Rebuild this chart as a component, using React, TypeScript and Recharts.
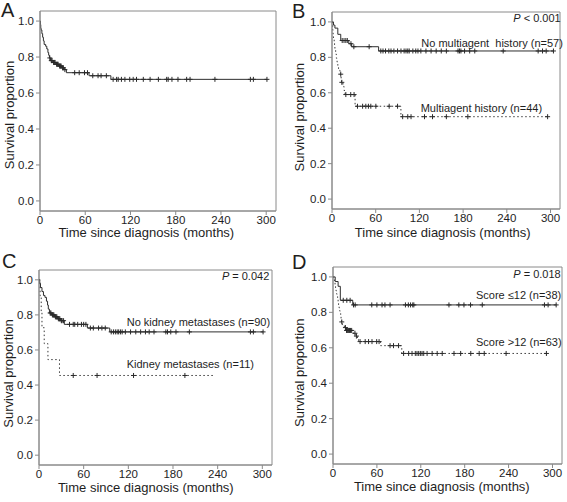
import React from 'react';
import { ComposedChart, Line, Scatter, XAxis, YAxis, ReferenceArea } from 'recharts';

// ---------- axis definitions ----------
const X_TICKS = [0, 60, 120, 180, 240, 300];
const Y_TICKS = [0, 0.2, 0.4, 0.6, 0.8, 1.0];
const X_MAX = 313;
const Y_MIN = -0.056;
const Y_MAX = 1.056;

// ---------- Panel A: all patients ----------
const aTimes = [0, 0.5, 1, 1.5, 2.5, 3.5, 4.5, 5.5, 7.5, 9, 10.5, 11.5, 12.5, 14, 17, 21, 25, 29, 32, 35, 65, 94];
const aSurv = [1.0, 0.98, 0.96, 0.95, 0.93, 0.91, 0.89, 0.87, 0.86, 0.845, 0.825, 0.81, 0.795, 0.78, 0.77, 0.76, 0.75, 0.74, 0.73, 0.713, 0.696, 0.676];
const aEnd = 301;
const aCensor = [13, 15, 16, 18, 19, 20, 22, 23, 24, 26, 27, 28, 30, 31, 33, 46, 52, 59, 63, 70, 77, 81, 88, 97, 101.6, 103.7, 108, 112.6, 119, 123.6, 128, 137, 146, 157, 168, 170, 175, 183, 194.5, 199, 232, 279, 283, 301];

// ---------- Panel B: multiagent history ----------
const bNoTimes = [0, 2, 4, 8, 12, 23, 27, 64];
const bNoSurv = [1.0, 0.982, 0.965, 0.93, 0.895, 0.877, 0.86, 0.836];
const bNoEnd = 304;
const bNoCensor = [14, 16.5, 19, 21, 26, 30, 51, 67, 70, 73.5, 78, 81, 85, 90, 94.7, 99, 101.6, 104, 106, 111, 115, 118, 122, 129, 136, 143, 150, 157, 173, 175, 177, 182, 189, 196, 235, 283, 289, 294, 304];
const bMaTimes = [0, 0.5, 1, 1.5, 2, 3, 3.5, 4, 5, 6, 7, 8, 9, 11, 12.5, 13, 15, 16.5, 18, 31.7, 94.6];
const bMaSurv = [1.0, 0.977, 0.955, 0.932, 0.909, 0.886, 0.864, 0.841, 0.818, 0.795, 0.773, 0.75, 0.727, 0.705, 0.682, 0.659, 0.636, 0.613, 0.59, 0.524, 0.465];
const bMaEnd = 296;
const bMaCensor = [12, 13.5, 19, 25.7, 30.3, 35, 42, 46.4, 50, 53.3, 60.2, 78.5, 90, 97, 104, 108.5, 127, 138, 157, 186.5, 296];

// ---------- Panel C: kidney metastases ----------
const cNoTimes = [0, 1, 2, 4, 6, 8, 10, 11.5, 12.5, 14, 17, 21, 25, 29, 34, 65, 95];
const cNoSurv = [1.0, 0.978, 0.956, 0.933, 0.911, 0.9, 0.878, 0.856, 0.833, 0.811, 0.8, 0.789, 0.778, 0.767, 0.746, 0.725, 0.703];
const cNoEnd = 301;
const cNoCensor = [15, 16, 18, 19, 20, 22, 23, 24, 26, 27, 28, 30, 31, 33, 41, 46, 48, 52, 57, 60, 63, 69, 73, 80, 84.5, 89, 97, 100, 102.6, 105, 107, 109.4, 111.7, 116, 123, 130, 136.5, 143, 148, 154.5, 170.4, 172.6, 177, 184, 202, 284, 288, 301];
const cKdTimes = [0, 1.5, 3, 4, 7, 12, 27.5];
const cKdSurv = [1.0, 0.909, 0.818, 0.727, 0.636, 0.545, 0.4545];
const cKdEnd = 234;
const cKdCensor = [46, 78, 127, 196];

// ---------- Panel D: score ----------
const dLoTimes = [0, 3, 7, 10, 27];
const dLoSurv = [1.0, 0.974, 0.947, 0.868, 0.842];
const dLoEnd = 305;
const dLoCensor = [14, 18.9, 23.4, 28, 30.3, 53, 60, 67, 71, 78, 99, 103, 106, 109, 110.5, 158.5, 172, 179, 188, 204, 289, 294, 305];
const dHiTimes = [0, 1, 2, 2.8, 3.5, 4.2, 4.8, 5.5, 6.3, 7, 7.6, 8.4, 9, 9.6, 10.5, 11, 11.7, 13, 15.5, 17.5, 27.5, 31.5, 33.5, 35, 65, 94];
const dHiSurv = [1.0, 0.984, 0.968, 0.952, 0.937, 0.921, 0.905, 0.889, 0.873, 0.857, 0.841, 0.825, 0.81, 0.794, 0.778, 0.762, 0.746, 0.73, 0.714, 0.698, 0.682, 0.666, 0.65, 0.635, 0.612, 0.568];
const dHiEnd = 292;
const dHiCensor = [12, 17, 18.5, 19.5, 20.5, 21.5, 22.5, 24, 25.5, 30, 32, 37, 44, 48.6, 53.3, 59.7, 63, 78, 82.7, 89.6, 96.5, 103.4, 108, 112.5, 114.8, 117.1, 119.4, 121.7, 124, 128.6, 135.5, 142.4, 149.3, 165.4, 174.5, 188.3, 199.8, 206.7, 236.6, 291.7];

// ---------- helpers ----------
type Pt = { t: number; s: number };
function stepData(times: number[], surv: number[], end: number): Pt[] {
  const pts = times.map((t, i) => ({ t, s: surv[i] }));
  pts.push({ t: end, s: surv[surv.length - 1] });
  return pts;
}
function survAt(times: number[], surv: number[], t: number): number {
  let s = surv[0];
  for (let i = 0; i < times.length; i++) if (times[i] <= t) s = surv[i];
  return s;
}
function censorData(times: number[], surv: number[], cens: number[]): Pt[] {
  return cens.map((t) => ({ t, s: survAt(times, surv, t) }));
}

const FONT = '"Liberation Sans", Arial, Helvetica, sans-serif';
const AXIS_COLOR = '#8a8a8a';
const INK = '#1e1e1e';

const Cross = (props: any) => {
  const { cx, cy } = props;
  if (cx == null || cy == null) return null;
  return (
    <path
      d={`M${cx - 2.5},${cy}h5M${cx},${cy - 2.5}v5`}
      stroke="#2a2a2a"
      strokeWidth={1}
      fill="none"
    />
  );
};

type Curve = { times: number[]; surv: number[]; end: number; censor: number[]; dashed?: boolean };

function Panel(props: {
  left: number;
  top: number;
  width: number;
  height: number;
  mTop: number;
  mRight: number;
  yw: number;
  xh: number;
  curves: Curve[];
}) {
  const { left, top, width, height, mTop, mRight, yw, xh, curves } = props;
  return (
    <div style={{ position: 'absolute', left, top, width, height }}>
      <ComposedChart
        width={width}
        height={height}
        margin={{ top: mTop, right: mRight, left: 0, bottom: 0 }}
      >
        <XAxis
          type="number"
          dataKey="t"
          domain={[0, X_MAX]}
          allowDataOverflow
          ticks={X_TICKS}
          interval={0}
          height={xh}
          tickSize={4}
          tickMargin={1}
          stroke={AXIS_COLOR}
          tick={{ fill: INK, fontSize: 11.5, fontFamily: FONT }}
        />
        <YAxis
          type="number"
          dataKey="s"
          domain={[Y_MIN, Y_MAX]}
          allowDataOverflow
          ticks={Y_TICKS}
          interval={0}
          width={yw}
          tickSize={4}
          tickMargin={2}
          stroke={AXIS_COLOR}
          tickFormatter={(v: number) => v.toFixed(1)}
          tick={{ fill: INK, fontSize: 11.5, fontFamily: FONT }}
        />
        <ReferenceArea
          x1={0}
          x2={X_MAX}
          y1={Y_MIN}
          y2={Y_MAX}
          fill="none"
          fillOpacity={0}
          stroke={AXIS_COLOR}
          strokeWidth={1}
        />
        {curves.map((c, i) => (
          <Line
            key={'l' + i}
            data={stepData(c.times, c.surv, c.end)}
            dataKey="s"
            type="stepAfter"
            stroke={c.dashed ? '#3a3a3a' : '#2e2e2e'}
            strokeWidth={1}
            strokeDasharray={c.dashed ? '1.5 2.5' : undefined}
            dot={false}
            activeDot={false}
            isAnimationActive={false}
          />
        ))}
        {curves.map((c, i) => (
          <Scatter
            key={'s' + i}
            data={censorData(c.times, c.surv, c.censor)}
            dataKey="s"
            shape={Cross}
            isAnimationActive={false}
          />
        ))}
      </ComposedChart>
    </div>
  );
}

const txt = { fontFamily: FONT, fill: INK } as const;

export default function App() {
  return (
    <div style={{ position: 'absolute', left: 0, top: 0, width: 567, height: 502, background: '#fff' }}>
      <Panel
        left={0}
        top={0}
        width={283}
        height={251}
        mTop={11}
        mRight={7}
        yw={40}
        xh={40}
        curves={[{ times: aTimes, surv: aSurv, end: aEnd, censor: aCensor }]}
      />
      <Panel
        left={283}
        top={0}
        width={284}
        height={251}
        mTop={12}
        mRight={7}
        yw={49}
        xh={42}
        curves={[
          { times: bNoTimes, surv: bNoSurv, end: bNoEnd, censor: bNoCensor },
          { times: bMaTimes, surv: bMaSurv, end: bMaEnd, censor: bMaCensor, dashed: true },
        ]}
      />
      <Panel
        left={0}
        top={251}
        width={283}
        height={251}
        mTop={19}
        mRight={11}
        yw={39}
        xh={37}
        curves={[
          { times: cNoTimes, surv: cNoSurv, end: cNoEnd, censor: cNoCensor },
          { times: cKdTimes, surv: cKdSurv, end: cKdEnd, censor: cKdCensor, dashed: true },
        ]}
      />
      <Panel
        left={283}
        top={251}
        width={284}
        height={251}
        mTop={16}
        mRight={5}
        yw={50}
        xh={38}
        curves={[
          { times: dLoTimes, surv: dLoSurv, end: dLoEnd, censor: dLoCensor },
          { times: dHiTimes, surv: dHiSurv, end: dHiEnd, censor: dHiCensor, dashed: true },
        ]}
      />
      <svg
        width={567}
        height={502}
        style={{ position: 'absolute', left: 0, top: 0, pointerEvents: 'none' }}
      >
        {/* panel letters */}
        <text x={1} y={17} fontSize={20} {...txt}>A</text>
        <text x={292} y={17.5} fontSize={20} {...txt}>B</text>
        <text x={2} y={267.5} fontSize={20} {...txt}>C</text>
        <text x={292} y={269} fontSize={20} {...txt}>D</text>

        {/* axis titles */}
        <text x={146.3} y={237} fontSize={13} textAnchor="middle" {...txt}>Time since diagnosis (months)</text>
        <text x={442.7} y={237} fontSize={13} textAnchor="middle" {...txt}>Time since diagnosis (months)</text>
        <text x={145.8} y={491.5} fontSize={13} textAnchor="middle" {...txt}>Time since diagnosis (months)</text>
        <text x={441.8} y={491} fontSize={13} textAnchor="middle" {...txt}>Time since diagnosis (months)</text>

        <text x={13.9} y={115} fontSize={13} textAnchor="middle" transform="rotate(-90 13.9 115)" {...txt}>Survival proportion</text>
        <text x={304.4} y={117.2} fontSize={13} textAnchor="middle" transform="rotate(-90 304.4 117.2)" {...txt}>Survival proportion</text>
        <text x={13.4} y={373.5} fontSize={13} textAnchor="middle" transform="rotate(-90 13.4 373.5)" {...txt}>Survival proportion</text>
        <text x={304.1} y={372.7} fontSize={13} textAnchor="middle" transform="rotate(-90 304.1 372.7)" {...txt}>Survival proportion</text>

        {/* P values */}
        <text x={560.7} y={22} fontSize={11} textAnchor="end" {...txt}>
          <tspan fontStyle="italic">P</tspan>
          {' < 0.001'}
        </text>
        <text x={269.3} y={280} fontSize={11} textAnchor="end" {...txt}>
          <tspan fontStyle="italic">P</tspan>
          {' = 0.042'}
        </text>
        <text x={560.7} y={278.3} fontSize={11} textAnchor="end" {...txt}>
          <tspan fontStyle="italic">P</tspan>
          {' = 0.018'}
        </text>

        {/* group labels */}
        <text x={421.3} y={46.7} fontSize={11} style={{ whiteSpace: 'pre' }} {...txt}>{'No multiagent  history (n=57)'}</text>
        <text x={420.7} y={111.7} fontSize={11} {...txt}>Multiagent history (n=44)</text>
        <text x={126.7} y={325.7} fontSize={11} {...txt}>No kidney metastases (n=90)</text>
        <text x={126.7} y={368.3} fontSize={11} {...txt}>Kidney metastases (n=11)</text>
        <text x={476} y={299.3} fontSize={11} {...txt}>Score ≤12 (n=38)</text>
        <text x={476} y={345.7} fontSize={11} {...txt}>Score &gt;12 (n=63)</text>
      </svg>
    </div>
  );
}
